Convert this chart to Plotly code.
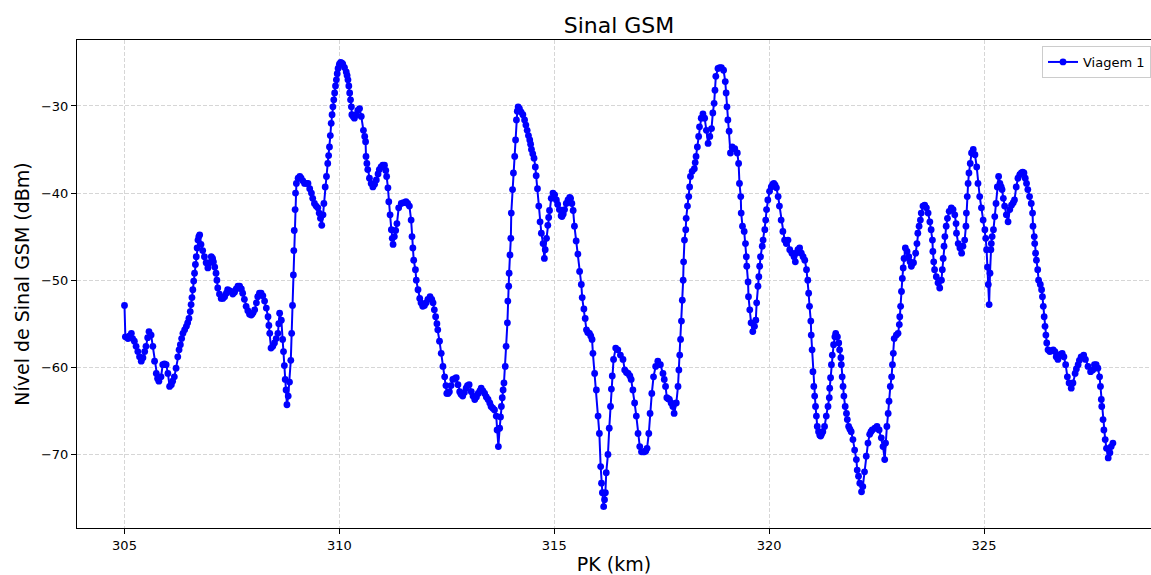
import plotly.graph_objects as go

# GSM signal level along the line, one trip (PK in km, level in dBm)
pk_305 = [305.00, 305.02, 305.08, 305.12, 305.16, 305.19, 305.23, 305.27, 305.31, 305.35,
          305.39, 305.43, 305.47, 305.50, 305.54, 305.57, 305.62, 305.66, 305.70, 305.74,
          305.77, 305.80, 305.85, 305.89, 305.93, 305.97, 306.01, 306.05, 306.09, 306.12,
          306.16, 306.20, 306.24, 306.27, 306.30, 306.33, 306.36, 306.40, 306.44, 306.47,
          306.50, 306.53, 306.55, 306.57, 306.59, 306.61, 306.63, 306.65, 306.67, 306.69,
          306.71, 306.73, 306.75, 306.78, 306.82, 306.86, 306.90, 306.94, 306.98, 307.02,
          307.05, 307.07, 307.10, 307.13, 307.15, 307.17, 307.21, 307.25, 307.29, 307.33,
          307.37, 307.40, 307.44, 307.48]
dbm_305 = [-52.9, -56.5, -56.7, -56.4, -56.1, -56.7, -57.0, -57.6, -58.2, -58.8,
           -59.3, -58.9, -58.2, -57.6, -56.6, -55.9, -56.3, -57.6, -59.3, -60.7,
           -61.3, -61.6, -61.1, -59.7, -59.6, -59.7, -60.7, -62.2, -62.0, -61.6,
           -61.1, -60.1, -58.8, -58.0, -57.4, -56.7, -56.1, -55.7, -55.3, -54.9,
           -54.4, -53.6, -52.8, -52.0, -51.1, -50.1, -49.2, -48.2, -47.3, -46.3,
           -45.4, -45.0, -44.8, -45.9, -46.6, -47.3, -48.0, -48.6, -48.0, -47.3,
           -47.5, -47.9, -48.5, -49.2, -50.0, -50.9, -51.6, -52.1, -52.1, -51.9,
           -51.5, -51.1, -51.2, -51.3]

pk_307 = [307.52, 307.56, 307.60, 307.64, 307.68, 307.72, 307.75, 307.79, 307.83, 307.87,
          307.91, 307.95, 307.99, 308.03, 308.07, 308.10, 308.14, 308.18, 308.22, 308.26,
          308.30, 308.34, 308.36, 308.38, 308.41, 308.45, 308.49, 308.53, 308.57, 308.59,
          308.61, 308.65, 308.68, 308.70, 308.72, 308.74, 308.76, 308.78, 308.81, 308.84,
          308.87, 308.89, 308.91, 308.93, 308.94, 308.95, 308.97, 308.98, 309.00, 309.04,
          309.08, 309.11, 309.15, 309.19, 309.23, 309.27, 309.31, 309.35, 309.38, 309.42,
          309.46, 309.50, 309.53, 309.56, 309.59, 309.62, 309.64, 309.67, 309.70, 309.73,
          309.75, 309.77, 309.79, 309.81, 309.83, 309.85, 309.87, 309.89, 309.91, 309.93,
          309.95, 309.97, 310.00, 310.03, 310.06, 310.08, 310.12, 310.16, 310.18, 310.20,
          310.22, 310.24, 310.26, 310.28, 310.29, 310.32, 310.35, 310.39, 310.43]
dbm_307 = [-51.6, -51.4, -51.0, -50.7, -50.7, -51.0, -51.5, -52.2, -53.0, -53.5,
           -53.9, -54.0, -53.8, -53.4, -52.6, -51.9, -51.5, -51.5, -51.8, -52.4,
           -53.2, -54.2, -55.2, -56.1, -57.8, -57.6, -57.2, -56.7, -56.1, -55.0,
           -53.8, -54.6, -56.8, -58.2, -59.8, -61.4, -62.6, -64.3, -63.3, -61.7,
           -59.2, -56.1, -52.9, -49.4, -46.6, -44.3, -41.9, -40.0, -38.9, -38.3,
           -38.1, -38.3, -38.6, -38.9, -38.9, -38.9, -39.5, -40.0, -40.6, -41.2,
           -41.5, -41.7, -42.3, -42.9, -43.7, -42.5, -41.2, -39.3, -38.1, -36.6,
           -35.7, -34.7, -33.4, -32.0, -31.0, -30.1, -29.3, -28.5, -27.7, -27.0,
           -26.3, -25.7, -25.2, -25.0, -25.1, -25.2, -25.6, -26.1, -26.5, -27.0,
           -27.7, -28.5, -29.3, -30.1, -31.0, -31.2, -31.4, -31.0, -30.5]

pk_310 = [310.47, 310.51, 310.56, 310.59, 310.61, 310.62, 310.64, 310.66, 310.70, 310.74,
          310.78, 310.82, 310.86, 310.90, 310.93, 310.97, 311.01, 311.05, 311.08, 311.10,
          311.13, 311.15, 311.18, 311.21, 311.23, 311.25, 311.28, 311.31, 311.34, 311.38,
          311.44, 311.49, 311.55, 311.59, 311.63, 311.67, 311.69, 311.71, 311.73, 311.77,
          311.79, 311.83, 311.87, 311.90, 311.94, 311.98, 312.02, 312.06, 312.11, 312.15,
          312.18, 312.21, 312.24, 312.27, 312.29, 312.33, 312.37, 312.41, 312.45, 312.48,
          312.50, 312.53, 312.56, 312.60, 312.64, 312.68, 312.72, 312.76, 312.80, 312.83,
          312.87, 312.91, 312.95, 312.98, 313.02, 313.07, 313.11, 313.15, 313.19, 313.23,
          313.27, 313.30, 313.34]
dbm_310 = [-30.3, -31.2, -32.8, -33.5, -34.1, -35.8, -36.6, -37.3, -38.3, -38.9,
           -39.3, -39.0, -38.5, -37.8, -37.3, -37.0, -36.8, -36.8, -37.4, -38.1,
           -39.4, -41.0, -42.5, -44.2, -45.2, -45.9, -45.0, -44.3, -43.5, -41.7,
           -41.2, -41.1, -41.0, -41.2, -41.5, -43.1, -45.0, -46.3, -47.7, -48.8,
           -50.0, -51.1, -52.1, -52.6, -53.0, -52.9, -52.6, -52.2, -51.9, -52.2,
           -52.6, -53.4, -54.2, -55.0, -55.7, -57.0, -58.4, -59.9, -61.1, -62.1,
           -63.0, -63.0, -62.8, -62.1, -61.4, -61.3, -61.2, -62.0, -62.8, -63.1,
           -63.3, -62.9, -62.4, -62.1, -62.0, -62.8, -63.3, -63.7, -63.4, -63.0,
           -62.7, -62.4, -62.7]

pk_313 = [313.38, 313.42, 313.46, 313.50, 313.53, 313.57, 313.61, 313.65, 313.67, 313.70,
          313.73, 313.75, 313.77, 313.79, 313.81, 313.83, 313.86, 313.88, 313.91, 313.92,
          313.94, 313.95, 313.97, 313.99, 314.00, 314.03, 314.05, 314.08, 314.10, 314.12,
          314.14, 314.16, 314.19, 314.23, 314.27, 314.31, 314.34, 314.37, 314.40, 314.43,
          314.45, 314.47, 314.50, 314.53, 314.56, 314.58, 314.61, 314.64, 314.67, 314.70,
          314.74, 314.77, 314.79, 314.82, 314.85, 314.87, 314.89, 314.93, 314.97, 315.01,
          315.05, 315.08, 315.12, 315.16, 315.18, 315.21, 315.24, 315.28, 315.32, 315.36,
          315.38, 315.41, 315.44, 315.47, 315.51, 315.55, 315.59, 315.63, 315.65, 315.69,
          315.72, 315.75, 315.78, 315.82, 315.85, 315.88, 315.90, 315.94, 315.98, 316.02,
          316.05, 316.08, 316.10, 316.12, 316.15, 316.17, 316.19, 316.21, 316.25, 316.28,
          316.31, 316.33, 316.35, 316.38]
dbm_313 = [-63.0, -63.4, -63.7, -64.1, -64.5, -64.7, -64.9, -65.6, -67.2, -69.1,
           -67.0, -65.7, -64.5, -63.5, -62.6, -61.8, -59.9, -57.6, -54.9, -52.4,
           -50.7, -49.2, -47.1, -45.2, -42.3, -39.6, -37.7, -35.8, -33.9, -31.6,
           -30.6, -30.1, -30.3, -30.7, -31.0, -31.6, -32.2, -32.8, -33.4, -33.9,
           -34.4, -35.0, -35.5, -36.0, -37.0, -38.0, -39.5, -41.5, -43.3, -44.6,
           -45.8, -47.5, -46.5, -45.2, -43.7, -42.8, -42.0, -40.6, -40.0, -40.2,
           -40.8, -41.3, -41.9, -42.6, -42.7, -42.4, -41.9, -41.2, -40.8, -40.5,
           -40.6, -41.2, -42.0, -43.8, -45.5, -47.0, -49.0, -50.5, -52.0, -53.3,
           -54.4, -55.7, -56.0, -56.1, -56.4, -56.8, -58.4, -60.7, -62.6, -65.6,
           -67.6, -71.4, -73.3, -74.4, -76.0, -75.2, -74.4, -72.1, -70.0, -67.0,
           -64.5, -62.5, -61.0, -59.1]

pk_316 = [316.43, 316.48, 316.54, 316.60, 316.64, 316.68, 316.72, 316.76, 316.79, 316.83,
          316.87, 316.91, 316.95, 316.99, 317.03, 317.07, 317.10, 317.13, 317.16, 317.20,
          317.23, 317.27, 317.31, 317.36, 317.41, 317.47, 317.53, 317.56, 317.59, 317.62,
          317.65, 317.68, 317.72, 317.76, 317.79, 317.84, 317.88, 317.90, 317.92, 317.94,
          317.96, 317.98, 318.00, 318.01, 318.03, 318.06, 318.07, 318.10, 318.13, 318.15,
          318.17, 318.21, 318.26, 318.28, 318.30, 318.33, 318.36, 318.38, 318.42, 318.46,
          318.50, 318.54, 318.58, 318.62, 318.66, 318.69, 318.72, 318.74, 318.76, 318.81,
          318.85, 318.89, 318.94, 318.98, 319.00, 319.02, 319.04, 319.07, 319.10, 319.14]
dbm_316 = [-57.8, -58.0, -58.6, -59.1, -60.3, -60.6, -60.7, -61.0, -61.4, -62.6,
           -64.1, -65.6, -67.6, -69.1, -69.7, -69.7, -69.7, -69.6, -69.3, -67.6,
           -65.3, -63.0, -61.1, -59.9, -59.3, -59.7, -60.7, -61.4, -62.2, -63.5,
           -63.6, -63.7, -64.1, -64.5, -65.3, -64.1, -62.2, -60.3, -58.6, -56.8,
           -54.7, -52.3, -50.0, -47.9, -45.4, -44.2, -42.9, -41.5, -40.4, -39.3,
           -38.1, -37.5, -37.2, -36.5, -35.8, -34.7, -33.5, -32.4, -31.4, -30.9,
           -31.4, -32.8, -34.3, -33.5, -32.6, -30.8, -29.7, -28.2, -26.6, -25.7,
           -25.6, -25.6, -25.9, -27.2, -28.5, -30.1, -31.6, -32.9, -35.4, -34.7]

pk_319 = [319.20, 319.26, 319.29, 319.31, 319.34, 319.35, 319.38, 319.42, 319.45, 319.47,
          319.48, 319.51, 319.52, 319.55, 319.58, 319.62, 319.66, 319.69, 319.71, 319.74,
          319.76, 319.78, 319.80, 319.84, 319.86, 319.90, 319.92, 319.94, 319.97, 320.01,
          320.05, 320.08, 320.11, 320.14, 320.17, 320.21, 320.24, 320.28, 320.32, 320.36,
          320.40, 320.44, 320.48, 320.53, 320.58, 320.61, 320.63, 320.67, 320.71, 320.75,
          320.79, 320.83, 320.87, 320.90, 320.92, 320.94, 320.97, 320.98, 321.00, 321.02,
          321.04, 321.06, 321.08, 321.10, 321.12, 321.15, 321.18, 321.20, 321.22, 321.25,
          321.29, 321.33, 321.37, 321.40, 321.41, 321.43, 321.45, 321.47, 321.50, 321.53,
          321.55, 321.59, 321.62, 321.64, 321.67, 321.68, 321.70, 321.72, 321.74, 321.77,
          321.80, 321.82, 321.85, 321.88, 321.91, 321.95, 321.99, 322.03, 322.05, 322.08]
dbm_319 = [-34.9, -35.4, -36.6, -38.9, -40.4, -42.3, -43.8, -44.4, -45.8, -47.3,
           -48.4, -50.2, -51.9, -53.4, -54.9, -55.9, -55.3, -54.6, -52.6, -50.7,
           -49.6, -48.4, -47.3, -46.1, -45.4, -44.2, -43.1, -41.9, -40.8, -39.8,
           -39.3, -39.0, -38.9, -39.1, -39.4, -40.4, -41.5, -43.1, -44.4, -45.4,
           -45.8, -45.4, -46.5, -46.9, -47.3, -47.9, -46.9, -46.5, -46.3, -46.9,
           -47.3, -47.7, -48.8, -50.0, -51.5, -53.0, -54.7, -56.3, -58.0, -60.5,
           -62.2, -63.3, -64.5, -65.6, -66.8, -67.4, -67.8, -67.9, -67.7, -67.4,
           -66.8, -65.6, -64.5, -63.5, -62.4, -61.2, -59.7, -58.6, -57.4, -56.5,
           -56.1, -56.5, -57.2, -58.0, -58.9, -59.7, -61.1, -62.2, -63.3, -64.5,
           -65.3, -66.0, -66.8, -67.1, -67.4, -68.3, -69.5, -70.6, -71.8, -72.5]

pk_322 = [322.11, 322.15, 322.18, 322.22, 322.26, 322.30, 322.34, 322.37, 322.40, 322.46,
          322.51, 322.56, 322.61, 322.65, 322.69, 322.71, 322.74, 322.77, 322.79, 322.82,
          322.85, 322.87, 322.89, 322.91, 322.96, 323.00, 323.03, 323.04, 323.06, 323.08,
          323.10, 323.12, 323.14, 323.17, 323.21, 323.25, 323.28, 323.31, 323.36, 323.41,
          323.44, 323.46, 323.49, 323.52, 323.54, 323.58, 323.62, 323.66, 323.70, 323.74,
          323.77, 323.80, 323.81, 323.83, 323.85, 323.89, 323.93, 323.97, 324.01, 324.03,
          324.05, 324.07, 324.09, 324.12, 324.15, 324.19, 324.24, 324.28, 324.32, 324.35,
          324.36, 324.40, 324.44, 324.48, 324.51, 324.55, 324.58, 324.59, 324.61, 324.63,
          324.65, 324.68, 324.71, 324.75, 324.79, 324.83, 324.86, 324.90, 324.94, 324.98,
          325.02, 325.04, 325.06, 325.08, 325.10, 325.12]
dbm_322 = [-73.3, -74.3, -73.7, -72.0, -70.2, -68.7, -67.7, -67.4, -67.2, -67.0,
           -66.8, -67.2, -68.1, -69.1, -70.6, -68.7, -66.8, -65.3, -63.9, -62.2,
           -61.1, -59.7, -58.4, -56.7, -56.3, -56.1, -55.1, -54.2, -53.0, -51.3,
           -49.8, -48.6, -47.5, -46.3, -46.7, -47.3, -47.9, -48.4, -48.0, -46.9,
           -45.8, -44.6, -43.8, -43.1, -42.3, -41.5, -41.4, -41.7, -42.3, -43.3,
           -44.2, -45.4, -46.7, -47.9, -48.8, -49.6, -50.3, -50.9, -50.0, -48.8,
           -47.5, -46.1, -45.0, -43.8, -42.9, -42.1, -41.7, -41.9, -42.5, -43.5,
           -44.6, -45.8, -46.3, -46.9, -46.1, -45.4, -43.8, -42.3, -40.4, -38.9,
           -37.7, -36.6, -35.4, -35.0, -35.6, -37.0, -38.9, -40.4, -41.7, -43.1,
           -44.2, -45.2, -46.5, -48.5, -50.5, -52.8]

pk_325 = [325.14, 325.16, 325.17, 325.19, 325.22, 325.25, 325.28, 325.31, 325.34, 325.37,
          325.40, 325.42, 325.45, 325.48, 325.52, 325.56, 325.60, 325.64, 325.68, 325.71,
          325.75, 325.79, 325.83, 325.87, 325.90, 325.93, 325.96, 325.99, 326.02, 326.06,
          326.10, 326.13, 326.14, 326.17, 326.18, 326.20, 326.22, 326.25, 326.27, 326.31,
          326.34, 326.36, 326.38, 326.40, 326.42, 326.44, 326.46, 326.49, 326.53, 326.57,
          326.61, 326.65, 326.68, 326.72, 326.76, 326.79, 326.82, 326.86, 326.90, 326.94,
          326.98, 327.03, 327.07, 327.12, 327.15, 327.19, 327.22, 327.26, 327.32, 327.36,
          327.42, 327.48, 327.53, 327.57, 327.61, 327.65, 327.69, 327.71, 327.73, 327.74,
          327.77, 327.79, 327.82, 327.85, 327.89, 327.93, 327.96, 328.00]
dbm_325 = [-49.2, -46.5, -45.8, -45.0, -44.2, -42.7, -41.2, -39.3, -38.1, -38.9,
           -39.3, -39.6, -40.6, -41.5, -42.5, -43.3, -41.9, -41.4, -41.1, -40.8,
           -39.3, -38.3, -37.9, -37.7, -37.6, -37.7, -38.3, -38.9, -39.6, -40.4,
           -41.2, -42.3, -43.8, -45.0, -45.8, -46.9, -47.7, -48.8, -50.0, -50.5,
           -51.1, -51.9, -53.0, -54.2, -55.3, -56.3, -57.2, -58.0, -58.2, -58.1,
           -58.0, -58.2, -58.8, -59.1, -58.6, -58.5, -58.4, -58.8, -59.7, -61.1,
           -61.8, -62.4, -61.8, -60.7, -60.2, -59.7, -59.2, -58.8, -58.6, -59.1,
           -59.9, -60.5, -60.3, -59.7, -59.7, -60.1, -61.1, -62.2, -63.7, -64.5,
           -66.0, -67.2, -68.3, -69.3, -70.4, -69.8, -69.1, -68.7]

x_ticks = [305, 310, 315, 320, 325]
y_ticks = [-70, -60, -50, -40, -30]
series_name = "Viagem 1"

pk = pk_305 + pk_307 + pk_310 + pk_313 + pk_316 + pk_319 + pk_322 + pk_325
sinal = dbm_305 + dbm_307 + dbm_310 + dbm_313 + dbm_316 + dbm_319 + dbm_322 + dbm_325
assert len(pk) == len(sinal)

FONT = "DejaVu Sans"
W, H = 1151, 575
L, R, T, B = 77, 0, 40, 47
plot_w = W - L - R

fig = go.Figure(
    go.Scatter(
        x=pk, y=sinal, mode="lines+markers", name=series_name,
        line=dict(color="#0000ff", width=2),
        marker=dict(color="#0000ff", size=6.8),
    )
)

axis_common = dict(
    showline=True, linecolor="black", linewidth=1,
    ticks="outside", ticklen=5, tickwidth=1, tickcolor="black",
    tickfont=dict(family=FONT, size=13, color="black"),
    showgrid=True, gridcolor="#d6d6d6", gridwidth=1, griddash="4px,2px",
    zeroline=False,
)

fig.update_layout(
    width=W, height=H, autosize=False,
    margin=dict(l=L, r=R, t=T, b=B, pad=0),
    paper_bgcolor="white", plot_bgcolor="white",
    font=dict(family=FONT, color="black"),
    title=dict(
        text="Sinal GSM", font=dict(family=FONT, size=22, color="black"),
        x=(619 - L) / plot_w, xref="paper", xanchor="center",
        y=1 - 25 / H, yref="container", yanchor="middle",
    ),
    xaxis=dict(
        axis_common, range=[303.895, 328.886], tickvals=x_ticks, mirror=True,
        title=dict(text="PK (km)", font=dict(family=FONT, size=19), standoff=7),
    ),
    yaxis=dict(
        axis_common, range=[-78.45, -22.43], tickvals=y_ticks,
        title=dict(text="Nível de Sinal GSM (dBm)", font=dict(family=FONT, size=19), standoff=6),
    ),
    legend=dict(
        x=(1042 - L) / plot_w, y=1 - 6 / (H - T - B), xanchor="left", yanchor="top",
        bgcolor="rgba(255,255,255,0.8)", bordercolor="#cccccc", borderwidth=1,
        font=dict(family=FONT, size=13, color="black"), itemwidth=30,
    ),
    showlegend=True,
)

fig.write_html("out.html")
